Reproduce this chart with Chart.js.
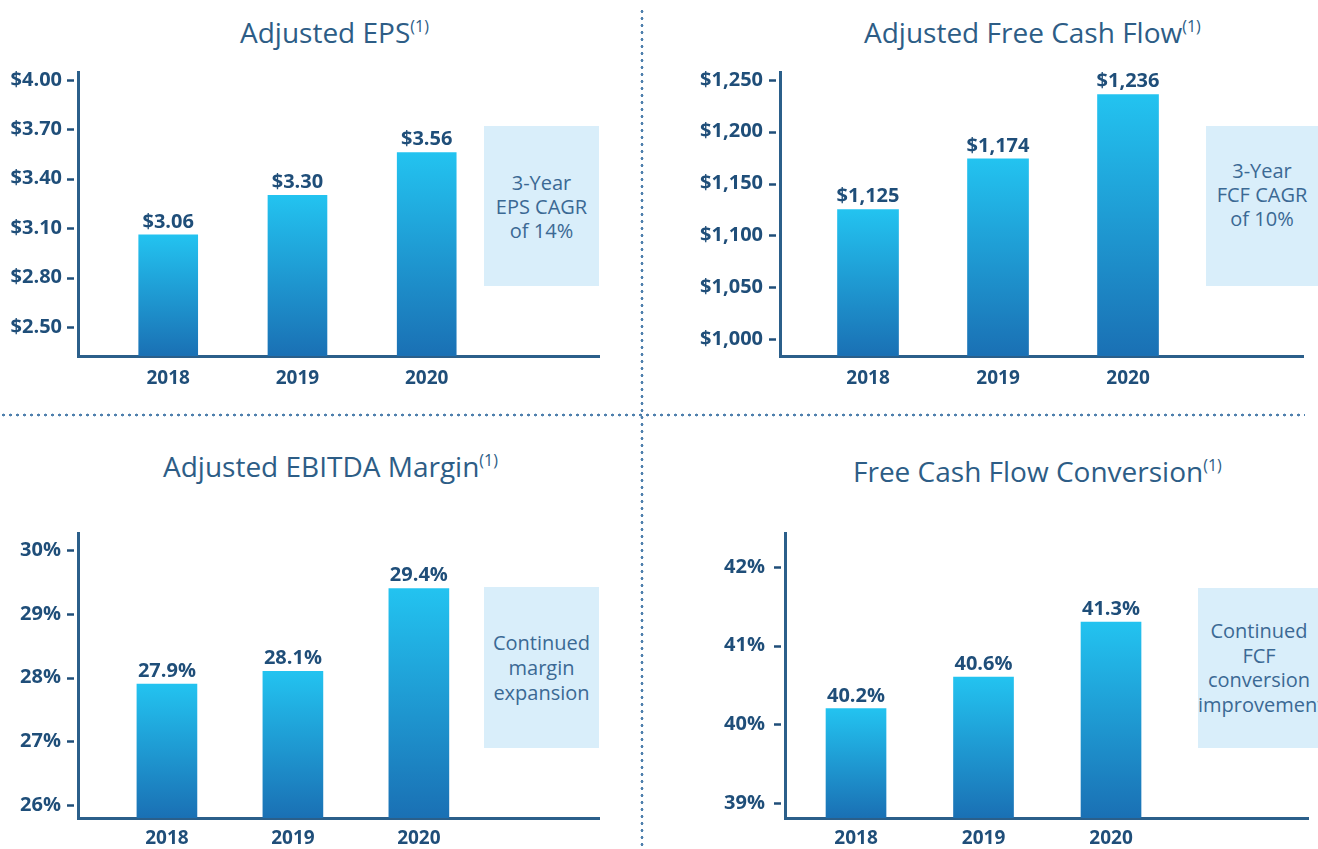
<!DOCTYPE html>
<html>
<head>
<meta charset="utf-8">
<script src="https://cdn.jsdelivr.net/npm/chart.js@4.4.1/dist/chart.umd.min.js"></script>
<style>
  body { margin: 0; width: 1318px; height: 849px; overflow: hidden; background: #fff; position: relative; font-family: "Open Sans", sans-serif; }
  canvas, .title, .box, .note, .hdots, .vdots { position: absolute; }
  .title { font-size: 28px; line-height: 28px; color: #2d5d86; white-space: nowrap; }
  .title sup { font-size: 16px; vertical-align: 11px; line-height: 0; }
  .box { background: #d9eefa; }
  .note { font-size: 20px; line-height: 24px; color: #3b6994; text-align: center; white-space: nowrap; }
  .hdots { background-image: radial-gradient(circle, #4f80ad 1.2px, transparent 1.7px); background-size: 7px 4px; background-repeat: repeat-x; }
  .vdots { background-image: radial-gradient(circle, #4f80ad 1.2px, transparent 1.7px); background-size: 4px 7px; background-repeat: repeat-y; }
</style>
</head>
<body>

<div class="vdots" style="left:640px; top:8px; width:4px; height:841px;"></div>
<div class="hdots" style="left:0px; top:413px; width:1305px; height:4px;"></div>

<div class="title" style="left:240px; top:18px;">Adjusted EPS<sup>(1)</sup></div>
<div class="title" style="left:864px; top:18px;">Adjusted Free Cash Flow<sup>(1)</sup></div>
<div class="title" style="left:163px; top:452px;">Adjusted EBITDA Margin<sup>(1)</sup></div>
<div class="title" style="left:853px; top:457px;">Free Cash Flow Conversion<sup>(1)</sup></div>

<div class="box" style="left:484px; top:126px; width:115px; height:160px;"></div>
<div class="note" style="left:484px; top:171px; width:115px;">3-Year<br>EPS CAGR<br>of 14%</div>
<div class="box" style="left:1206px; top:126px; width:112px; height:160px;"></div>
<div class="note" style="left:1206px; top:159px; width:112px;">3-Year<br>FCF CAGR<br>of 10%</div>
<div class="box" style="left:484px; top:587px; width:115px; height:161px;"></div>
<div class="note" style="left:484px; top:630px; width:115px; line-height:25px;">Continued<br>margin<br>expansion</div>
<div class="box" style="left:1198px; top:588px; width:120px; height:160px;"></div>
<div class="note" style="left:1198px; top:619px; width:122px; line-height:24.7px;">Continued<br>FCF<br>conversion<br>improvement</div>

<canvas id="eps" width="640" height="340" style="left:0px; top:60px;"></canvas>
<canvas id="fcf" width="658" height="340" style="left:660px; top:60px;"></canvas>
<canvas id="ebitda" width="640" height="349" style="left:0px; top:500px;"></canvas>
<canvas id="conversion" width="658" height="349" style="left:660px; top:500px;"></canvas>

<script>
var years = ['2018', '2019', '2020'];

var epsValues = [3.06, 3.30, 3.56];
var epsTicks = [2.50, 2.80, 3.10, 3.40, 3.70, 4.00];

var fcfValues = [1125, 1174, 1236];
var fcfTicks = [1000, 1050, 1100, 1150, 1200, 1250];

var ebitdaValues = [27.9, 28.1, 29.4];
var ebitdaTicks = [26, 27, 28, 29, 30];

var conversionValues = [40.2, 40.6, 41.3];
var conversionTicks = [39, 40, 41, 42];

var navy = '#1f4e79';
var axisColor = '#2b5f8a';

function money2(v) { return '$' + v.toFixed(2); }
function moneyK(v) { return '$' + v.toLocaleString('en-US'); }
function pct0(v) { return v.toFixed(0) + '%'; }
function pct1(v) { return v.toFixed(1) + '%'; }

function makeChart(id, o) {
  // value labels above bars + short tick dashes left of the y axis
  var labelsPlugin = {
    id: 'labels_' + id,
    afterDatasetsDraw: function(chart) {
      var ctx = chart.ctx;
      var meta = chart.getDatasetMeta(0);
      ctx.save();
      ctx.font = 'bold 20px "Open Sans"';
      ctx.fillStyle = navy;
      ctx.textAlign = 'center';
      ctx.textBaseline = 'alphabetic';
      meta.data.forEach(function(bar, i) {
        ctx.fillText(o.valueText(o.values[i]), bar.x, bar.y - 7);
      });
      var ys = chart.scales.y, left = chart.chartArea.left;
      ctx.strokeStyle = navy;
      ctx.lineWidth = 2.5;
      ys.ticks.forEach(function(t) {
        var y = Math.round(ys.getPixelForValue(t.value)) + 0.5;
        ctx.beginPath();
        ctx.moveTo(left - 11, y);
        ctx.lineTo(left - 4, y);
        ctx.stroke();
      });
      ctx.restore();
    }
  };

  return new Chart(document.getElementById(id), {
    type: 'bar',
    data: {
      datasets: [{
        data: o.values.map(function(v, i) { return { x: i, y: v }; }),
        barThickness: o.barWidth,
        borderWidth: 0,
        backgroundColor: function(c) {
          var chart = c.chart, area = chart.chartArea;
          if (!area || !c.parsed) return '#1f9fd9';
          var top = chart.scales.y.getPixelForValue(c.parsed.y);
          var g = chart.ctx.createLinearGradient(0, top, 0, area.bottom);
          g.addColorStop(0, '#23c3f0');
          g.addColorStop(1, '#1a70b4');
          return g;
        }
      }]
    },
    options: {
      responsive: false,
      animation: false,
      layout: { padding: { top: o.padTop, right: o.padRight, left: 0, bottom: 0 } },
      plugins: { legend: { display: false }, tooltip: { enabled: false } },
      scales: {
        x: {
          type: 'linear',
          offset: false,
          min: o.xMin,
          max: o.xMax,
          grid: { display: false, drawTicks: false },
          border: { display: true, color: axisColor, width: 3 },
          afterBuildTicks: function(s) { s.ticks = years.map(function(y, i) { return { value: i }; }); },
          afterFit: function(s) { s.height = o.xHeight; s.paddingLeft = 0; s.paddingRight = 0; },
          ticks: {
            autoSkip: false,
            maxRotation: 0,
            padding: o.xPad,
            color: navy,
            font: { family: 'Open Sans', size: 19, weight: 'bold' },
            callback: function(v) { return years[v]; }
          }
        },
        y: {
          type: 'linear',
          beginAtZero: false,
          min: o.yMin,
          max: o.yMax,
          grid: { display: false, drawTicks: false },
          border: { display: true, color: axisColor, width: 3 },
          afterBuildTicks: function(s) { s.ticks = o.ticks.map(function(v) { return { value: v }; }); },
          afterFit: function(s) { s.width = o.yWidth; s.paddingTop = 0; s.paddingBottom = 0; },
          ticks: {
            padding: o.yPad,
            color: navy,
            font: { family: 'Open Sans', size: 20, weight: 'bold' },
            callback: function(v) { return o.tickText(v); }
          }
        }
      }
    },
    plugins: [labelsPlugin]
  });
}

makeChart('eps', {
  values: epsValues, ticks: epsTicks, valueText: money2, tickText: money2,
  yMin: 2.323, yMax: 4.049, xMin: -0.698, xMax: 3.333,
  yWidth: 78, yPad: 16, padTop: 12, padRight: 41, xHeight: 44, xPad: 11, barWidth: 59
});

makeChart('fcf', {
  values: fcfValues, ticks: fcfTicks, valueText: moneyK, tickText: moneyK,
  yMin: 983.6, yMax: 1257.7, xMin: -0.677, xMax: 3.346,
  yWidth: 120, yPad: 17, padTop: 12, padRight: 15, xHeight: 44, xPad: 11, barWidth: 61
});

makeChart('ebitda', {
  values: ebitdaValues, ticks: ebitdaTicks, valueText: pct1, tickText: pct0,
  yMin: 25.8, yMax: 30.27, xMin: -0.706, xMax: 3.43,
  yWidth: 78, yPad: 17, padTop: 33, padRight: 41, xHeight: 31, xPad: 9, barWidth: 60
});

makeChart('conversion', {
  values: conversionValues, ticks: conversionTicks, valueText: pct1, tickText: pct0,
  yMin: 38.81, yMax: 42.43, xMin: -0.557, xMax: 3.545,
  yWidth: 125, yPad: 20, padTop: 33, padRight: 10, xHeight: 31, xPad: 9, barWidth: 60
});
</script>
</body>
</html>
